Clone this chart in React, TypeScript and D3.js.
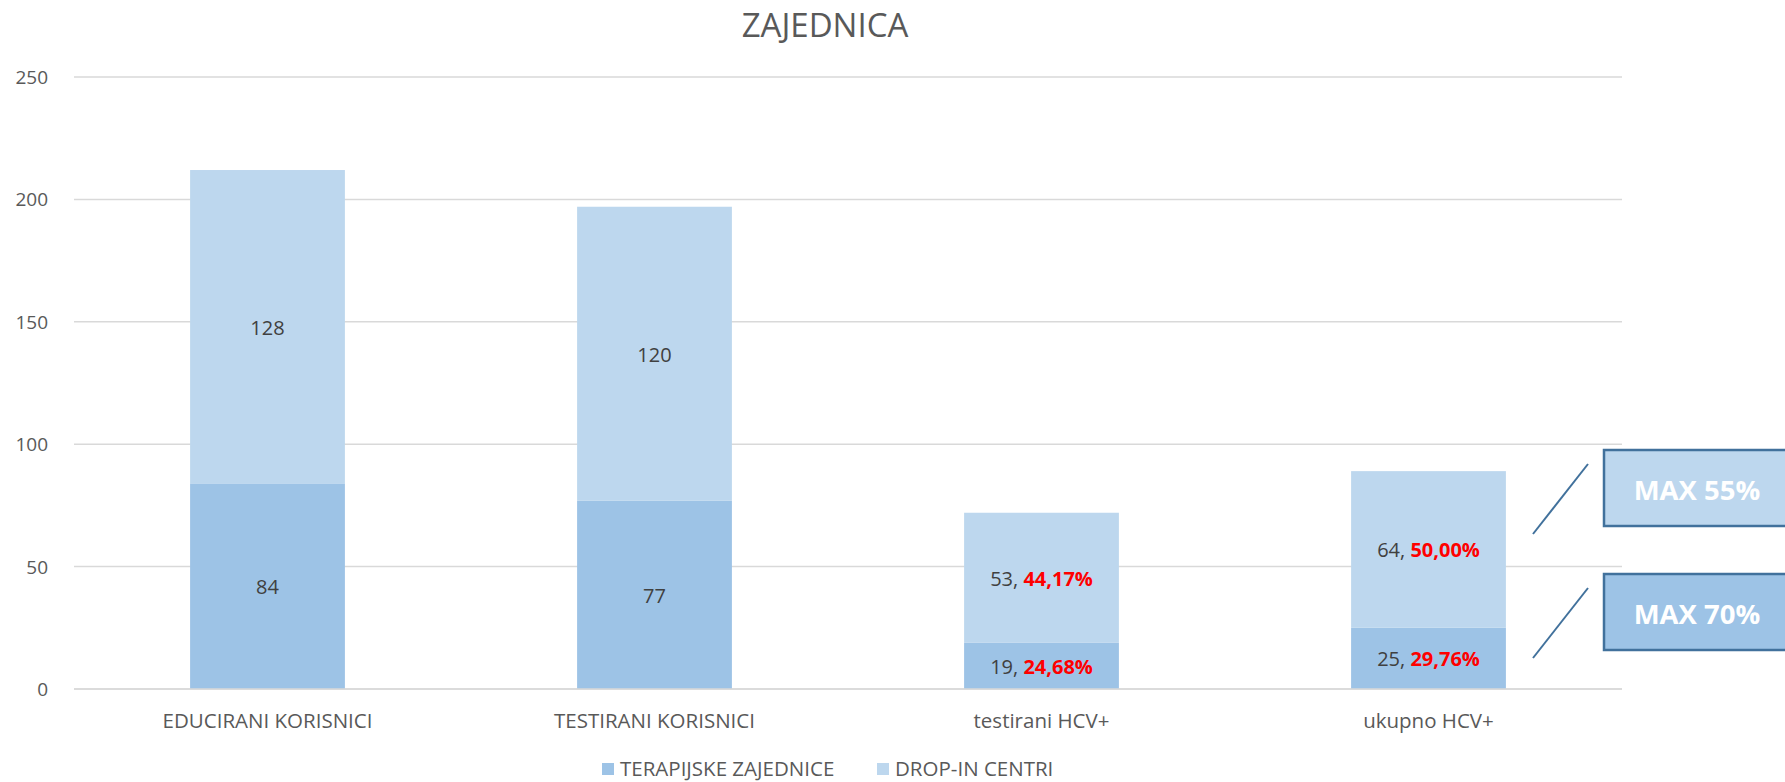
import React from "react";
import * as d3 from "d3";

const categories = ["EDUCIRANI KORISNICI", "TESTIRANI KORISNICI", "testirani HCV+", "ukupno HCV+"];
const seriesNames = ["TERAPIJSKE ZAJEDNICE", "DROP-IN CENTRI"];
const terapijske = [84, 77, 19, 25];
const dropIn = [128, 120, 53, 64];
const terapijskePct = ["", "", "24,68%", "29,76%"];
const dropInPct = ["", "", "44,17%", "50,00%"];
const yTicks = [0, 50, 100, 150, 200, 250];
const annotations = ["MAX 55%", "MAX 70%"];

const W = 1785;
const H = 782;
const FONT = "'Open Sans', 'Noto Sans', sans-serif";
const C_DARK = "#9DC3E6";
const C_LIGHT = "#BDD7EE";

export default function App() {
  const x = d3.scaleBand<string>().domain(categories).range([74, 1622]).paddingInner(0.6).paddingOuter(0.3);
  const y = d3.scaleLinear().domain([0, 250]).range([689, 77]);
  const stacked = categories.map((c, i) => ({ c, a: terapijske[i], b: dropIn[i] }));
  const bw = x.bandwidth();

  const label = (v: number, pct: string, cx: number, cy: number, key: string) => (
    <text key={key} x={cx} y={cy} textAnchor="middle" dominantBaseline="central" fontFamily={FONT} fontSize={20}>
      <tspan fill="#404040">{pct ? `${v}, ` : `${v}`}</tspan>
      {pct ? <tspan fill="#FF0000" fontWeight="bold">{pct}</tspan> : null}
    </text>
  );

  return (
    <svg width={W} height={H} style={{ position: "absolute", left: 0, top: 0 }} xmlns="http://www.w3.org/2000/svg">
      <rect width={W} height={H} fill="#fff" />
      <text x={825} y={24} textAnchor="middle" dominantBaseline="central" fontFamily={FONT} fontSize={33} fill="#595959">
        ZAJEDNICA
      </text>
      {yTicks.map((t) => (
        <g key={t}>
          <line x1={74} x2={1622} y1={y(t)} y2={y(t)} stroke="#D9D9D9" strokeWidth={1.5} />
          <text x={48} y={y(t)} textAnchor="end" dominantBaseline="central" fontFamily={FONT} fontSize={19} fill="#595959">
            {t}
          </text>
        </g>
      ))}
      {stacked.map((d, i) => {
        const x0 = x(d.c)!;
        const cx = x0 + bw / 2;
        return (
          <g key={d.c}>
            <rect x={x0} y={y(d.a)} width={bw} height={y(0) - y(d.a)} fill={C_DARK} />
            <rect x={x0} y={y(d.a + d.b)} width={bw} height={y(d.a) - y(d.a + d.b)} fill={C_LIGHT} />
            {label(d.a, terapijskePct[i], cx, y(d.a / 2), "a")}
            {label(d.b, dropInPct[i], cx, y(d.a + d.b / 2), "b")}
            <text x={cx} y={720} textAnchor="middle" dominantBaseline="central" fontFamily={FONT} fontSize={20.5} fill="#595959">
              {d.c}
            </text>
          </g>
        );
      })}
      <line x1={74} x2={1622} y1={y(0)} y2={y(0)} stroke="#D9D9D9" strokeWidth={1.5} />
      {/* legend */}
      <rect x={602} y={763} width={12} height={12} fill={C_DARK} />
      <text x={620} y={768} dominantBaseline="central" fontFamily={FONT} fontSize={20.5} fill="#595959">{seriesNames[0]}</text>
      <rect x={877} y={763} width={12} height={12} fill={C_LIGHT} />
      <text x={895} y={768} dominantBaseline="central" fontFamily={FONT} fontSize={20.5} fill="#595959">{seriesNames[1]}</text>
      {/* annotations */}
      {annotations.map((a, i) => {
        const top = i === 0 ? 450 : 574;
        return (
          <g key={a}>
            <line x1={1588} y1={top + 14} x2={1533} y2={top + 84} stroke="#41719C" strokeWidth={2} />
            <rect x={1604} y={top} width={200} height={76} fill={i === 0 ? C_LIGHT : C_DARK} stroke="#41719C" strokeWidth={2.5} />
            <text x={1697} y={top + 39} textAnchor="middle" dominantBaseline="central" fontFamily={FONT} fontWeight="bold" fontSize={27.5} fill="#fff">
              {a}
            </text>
          </g>
        );
      })}
    </svg>
  );
}
